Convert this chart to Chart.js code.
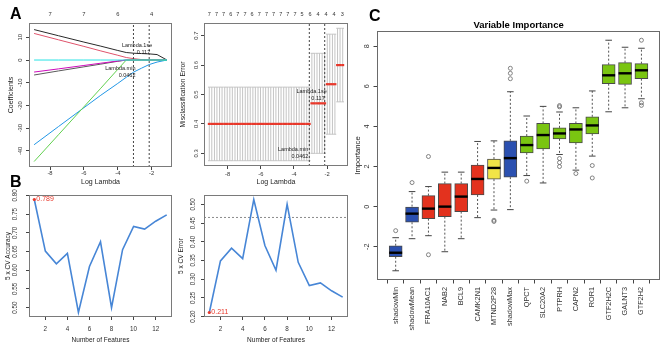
<!DOCTYPE html>
<html lang="en"><head><meta charset="utf-8"><title>Feature selection figure</title>
<script src="https://cdn.jsdelivr.net/npm/chart.js@4.4.1/dist/chart.umd.min.js"></script>
<style>
html,body{margin:0;padding:0;background:#fff;overflow:hidden}
#fig{position:relative;width:669px;height:345px;background:#fff}
#fig canvas{position:absolute;left:0;top:0}
.plab{position:absolute;font-family:'Liberation Sans',Arial,sans-serif;font-weight:bold;font-size:16px;line-height:16px;color:#000}
</style></head><body>
<div id="fig">
<canvas id="cvA1" width="669" height="345"></canvas>
<canvas id="cvA2" width="669" height="345"></canvas>
<canvas id="cvB1" width="669" height="345"></canvas>
<canvas id="cvB2" width="669" height="345"></canvas>
<canvas id="cvC" width="669" height="345"></canvas>
<div class="plab" style="left:10px;top:6px">A</div>
<div class="plab" style="left:10px;top:174px">B</div>
<div class="plab" style="left:369px;top:8px">C</div>
</div>
<script>
// ================= DATA =================
// Panel A (left): lasso coefficient paths vs log(lambda)
const pathLogLambda = [-8.94, -7.5, -6.0, -5.0, -4.0, -3.5, -3.06, -2.6, -2.15, -1.68, -1.1];
const coefBlack   = [13.4, 10.7, 7.9, 6.1, 4.2, 3.3, 3.0, 2.85, 2.7, 2.4, 0];
const coefPink    = [11.7, 8.9, 6.0, 4.0, 2.1, 1.1, 0.6, 0.2, 0, 0, 0];
const coefCyan    = [0, 0, 0, 0, 0, 0, 0, 0, 0, 0, 0];
const coefMagenta = [-5.3, -3.9, -2.4, -1.4, -0.45, 0, 0, 0, 0, 0, 0];
const coefGrey    = [-6.6, -4.8, -3.0, -1.8, -0.55, 0, 0, 0, 0, 0, 0];
const coefGreen   = [-44.7, -32.9, -20.6, -12.4, -4.1, 0, 0, 0, 0, 0, 0];
const coefBlue    = [-37.3, -29.3, -21.0, -15.5, -10.3, -7.6, -5.3, -3.6, -2.0, -0.9, 0];
const lambdaMinLog = -3.075;   // log(0.0462)
const lambda1seLog = -2.146;   // log(0.117)
const xTicksA = [-8, -6, -4, -2];
const yTicksA1 = [-40, -30, -20, -10, 0, 10];
const topPosA1 = [-8, -6, -4, -2];
const topLabA1 = ['7', '7', '6', '4'];

// Panel A (right): cross-validated misclassification error
const cvLogLambda = [-1.06,-1.22,-1.37,-1.53,-1.68,-1.84,-1.99,-2.15,-2.30,-2.46,
  -2.61,-2.77,-2.92,-3.08,-3.23,-3.39,-3.54,-3.69,-3.85,-4.00,
  -4.16,-4.31,-4.47,-4.62,-4.78,-4.93,-5.09,-5.24,-5.40,-5.55,
  -5.71,-5.86,-6.02,-6.17,-6.33,-6.48,-6.64,-6.79,-6.94,-7.10,
  -7.25,-7.41,-7.56,-7.72,-7.87,-8.03,-8.18,-8.34,-8.49,-8.65,
  -8.80,-8.96,-9.11];
const cvMean = [0.60,0.60,0.60,0.535,0.535,0.535,0.535,0.47,0.47,0.47,
  0.47,0.47,0.47,0.40,0.40,0.40,0.40,0.40,0.40,0.40,
  0.40,0.40,0.40,0.40,0.40,0.40,0.40,0.40,0.40,0.40,
  0.40,0.40,0.40,0.40,0.40,0.40,0.40,0.40,0.40,0.40,
  0.40,0.40,0.40,0.40,0.40,0.40,0.40,0.40,0.40,0.40,
  0.40,0.40,0.40];
const cvUp = [0.725,0.725,0.725,0.705,0.705,0.705,0.705,0.64,0.64,0.64,
  0.64,0.64,0.64,0.525,0.525,0.525,0.525,0.525,0.525,0.525,
  0.525,0.525,0.525,0.525,0.525,0.525,0.525,0.525,0.525,0.525,
  0.525,0.525,0.525,0.525,0.525,0.525,0.525,0.525,0.525,0.525,
  0.525,0.525,0.525,0.525,0.525,0.525,0.525,0.525,0.525,0.525,
  0.525,0.525,0.525];
const cvLo = [0.475,0.475,0.475,0.365,0.365,0.365,0.365,0.30,0.30,0.30,
  0.30,0.30,0.30,0.275,0.275,0.275,0.275,0.275,0.275,0.275,
  0.275,0.275,0.275,0.275,0.275,0.275,0.275,0.275,0.275,0.275,
  0.275,0.275,0.275,0.275,0.275,0.275,0.275,0.275,0.275,0.275,
  0.275,0.275,0.275,0.275,0.275,0.275,0.275,0.275,0.275,0.275,
  0.275,0.275,0.275];
const yTicksA2 = [0.3, 0.4, 0.5, 0.6, 0.7];
const topPosA2 = [-9.11,-8.68,-8.25,-7.82,-7.39,-6.96,-6.53,-6.09,-5.66,-5.23,-4.80,-4.37,-3.94,-3.52,-3.03,-2.55,-2.06,-1.58,-1.09];
const topLabA2 = ['7','7','7','6','7','7','6','7','7','7','7','7','7','5','6','4','4','4','3'];

// Panel B: SVM-RFE 5-fold CV
const nFeatures  = [1, 2, 3, 4, 5, 6, 7, 8, 9, 10, 11, 12, 13];
const cvAccuracy = [0.789, 0.651, 0.617, 0.645, 0.487, 0.610, 0.676, 0.500, 0.655, 0.717, 0.710, 0.731, 0.748];
const cvError    = [0.211, 0.349, 0.383, 0.355, 0.513, 0.390, 0.324, 0.500, 0.345, 0.283, 0.290, 0.269, 0.252];
const errCutoff  = 0.465;
const xTicksB  = [2, 4, 6, 8, 10, 12];
const yTicksB1 = [0.50, 0.55, 0.60, 0.65, 0.70, 0.75, 0.80];
const yTicksB2 = [0.20, 0.25, 0.30, 0.35, 0.40, 0.45, 0.50];

// Panel C: Boruta variable importance
const boxNames = ['shadowMin','shadowMean','FRA10AC1','NAB2','BCL9','CAMK2N1','MTND2P28','shadowMax',
  'QPCT','SLC20A2','PTPRH','CAPN2','ROR1','GTF2H2C','GALNT3','GTF2H2'];
const boxGroup = ['shadow','shadow','rejected','rejected','rejected','rejected','tentative','shadow',
  'confirmed','confirmed','confirmed','confirmed','confirmed','confirmed','confirmed','confirmed'];
const boxLow  = [-3.2, -1.6, -1.45, -2.25, -1.6, -0.55, -0.17, -0.15, 1.55, 1.18, 2.6, 1.82, 2.52, 4.73, 4.93, 5.38];
const boxQ1   = [-2.5, -0.78, -0.6, -0.5, -0.25, 0.58, 1.37, 1.47, 2.68, 2.88, 3.38, 3.18, 3.63, 6.13, 6.1, 6.38];
const boxMed  = [-2.3, -0.35, -0.1, 0.0, 0.5, 1.38, 1.93, 2.42, 3.07, 3.57, 3.65, 3.85, 4.05, 6.55, 6.65, 6.8];
const boxQ3   = [-1.95, 0.0, 0.55, 1.15, 1.15, 2.07, 2.37, 3.28, 3.52, 4.15, 3.93, 4.15, 4.48, 7.08, 7.18, 7.13];
const boxHigh = [-1.55, 0.75, 1.0, 1.72, 1.72, 3.25, 3.28, 5.73, 4.52, 5.0, 4.72, 4.93, 5.77, 8.3, 7.95, 7.9];
const outlierBox = [1, 2, 3, 3, 7, 7, 8, 8, 8, 9, 11, 11, 11, 11, 11, 12, 13, 13, 16, 16, 16];
const outlierVal = [-1.2, 1.2, 2.5, -2.4, -0.68, -0.74, 6.38, 6.65, 6.9, 1.27, 4.98, 5.04, 2.4, 2.2, 2.0, 1.65, 2.05, 1.43, 8.3, 5.18, 5.05];
const yTicksC = [-2, 0, 2, 4, 6, 8];
const boxTickPos = [1, 2, 3, 4, 5, 6, 7, 8, 9, 10, 11, 12, 13, 14, 15, 16];

// ================= HELPERS =================
const W = 669, H = 345;
const FAM = "'Liberation Sans', Arial, Helvetica, sans-serif";
Chart.defaults.font.family = FAM;
Chart.defaults.color = '#333';
const groupColor = { shadow: '#2b50b0', rejected: '#e3321e', tentative: '#f1e547', confirmed: '#7ac511' };
const RED = '#e8382b';

function pts(xs, ys) { return xs.map((x, i) => ({ x: x, y: ys[i] })); }

function framePlugin(color) {
  return { id: 'frame', afterDatasetsDraw(chart) {
    const a = chart.chartArea, ctx = chart.ctx;
    ctx.save(); ctx.strokeStyle = color; ctx.lineWidth = 1;
    ctx.strokeRect(Math.round(a.left) + 0.5, Math.round(a.top) + 0.5,
      Math.round(a.right) - Math.round(a.left) - 1, Math.round(a.bottom) - Math.round(a.top) - 1);
    ctx.restore();
  }};
}
function notesPlugin(items) {
  return { id: 'notes', afterDatasetsDraw(chart) {
    const ctx = chart.ctx, a = chart.chartArea;
    items.forEach(it => {
      let px, py;
      if (it.center) { px = (a.left + a.right) / 2; py = a.top + it.dyTop; }
      else {
        px = chart.scales.x.getPixelForValue(it.x) + (it.dx || 0);
        py = chart.scales.y.getPixelForValue(it.y) + (it.dy || 0);
      }
      ctx.save(); ctx.font = it.font; ctx.fillStyle = it.color || '#222';
      ctx.textAlign = it.align || 'left'; ctx.textBaseline = 'middle';
      ctx.fillText(it.text, px, py); ctx.restore();
    });
  }};
}
function yAxisCfg(o) {
  return {
    type: 'linear', position: 'left', min: o.min, max: o.max, bounds: 'data',
    afterFit: s => { s.width = o.width; },
    afterBuildTicks: s => { s.ticks = o.ticks.map(v => ({ value: v })); },
    grid: { display: true, drawOnChartArea: false, drawTicks: true, tickLength: o.tl, tickColor: '#444', tickWidth: 1 },
    border: { display: false },
    ticks: { autoSkip: false, minRotation: 90, maxRotation: 90, crossAlign: 'center', padding: o.pad,
      font: { size: o.font }, color: '#333', callback: o.fmt },
    title: { display: true, text: o.title, font: { size: o.titleFont }, padding: { top: o.titlePad, bottom: 0 }, color: '#222' }
  };
}
function xAxisCfg(o) {
  const hasTicks = o.tl > 0;
  return {
    type: 'linear', position: o.position || 'bottom', min: o.min, max: o.max, offset: false, bounds: 'data',
    afterFit: s => { s.height = o.height; },
    afterBuildTicks: s => { s.ticks = o.ticks.map(v => ({ value: v })); },
    grid: { display: hasTicks, drawOnChartArea: false, drawTicks: hasTicks, tickLength: o.tl, tickColor: '#444', tickWidth: 1 },
    border: { display: false },
    ticks: { autoSkip: false, minRotation: o.rot || 0, maxRotation: o.rot || 0, padding: o.pad,
      font: { size: o.font }, color: '#333', callback: o.fmt },
    title: o.title ? { display: true, text: o.title, font: { size: o.titleFont }, padding: { top: 0, bottom: o.titlePad }, color: '#222' } : { display: false }
  };
}
function baseOptions(P, scales) {
  return {
    responsive: false, maintainAspectRatio: false, animation: false, devicePixelRatio: 1, events: [],
    layout: { padding: { left: P.L - P.yw, top: P.T - P.th, right: W - P.R, bottom: H - P.B - P.xh } },
    scales: scales,
    plugins: { legend: { display: false }, tooltip: { enabled: false }, title: { display: false } }
  };
}
function lineDs(data, color, width, extra) {
  return Object.assign({ type: 'line', data: data, borderColor: color, borderWidth: width, pointRadius: 0,
    tension: 0, fill: false, spanGaps: false }, extra || {});
}

// ================= PANEL A (left) =================
(function () {
  const P = { L: 29, T: 23, R: 172, B: 167, yw: 25, xh: 22, th: 14, xmin: -9.24, xmax: -0.80, ymin: -47.1, ymax: 16.3 };
  const paths = [
    [coefCyan, '#28E2E5'], [coefGreen, '#61D04F'], [coefBlue, '#2297E6'], [coefMagenta, '#CD0BBC'],
    [coefGrey, '#5a5a5a'], [coefPink, '#DF536B'], [coefBlack, '#2a2a2a']
  ];
  const ds = paths.map(p => lineDs(pts(pathLogLambda, p[0]), p[1], 1, { order: 2 }));
  [lambdaMinLog, lambda1seLog].forEach(l => ds.push(lineDs([{ x: l, y: P.ymin }, { x: l, y: P.ymax }], '#444', 1, { borderDash: [2, 2], order: 1 })));
  const f = '5.5px ' + FAM;
  const notes = [
    { x: lambda1seLog, y: 6.6, dx: 3, text: 'Lambda.1se', align: 'right', font: f },
    { x: lambda1seLog, y: 3.1, dx: 1, text: '0.117', align: 'right', font: f },
    { x: lambdaMinLog, y: -3.9, dx: 2, text: 'Lambda.min', align: 'right', font: f },
    { x: lambdaMinLog, y: -7.0, dx: 2, text: '0.0462', align: 'right', font: f }
  ];
  new Chart(document.getElementById('cvA1'), {
    type: 'scatter',
    data: { datasets: ds },
    options: baseOptions(P, {
      x: xAxisCfg({ min: P.xmin, max: P.xmax, ticks: xTicksA, height: P.xh, tl: 3, pad: 0.3, font: 5.8,
        fmt: v => String(v), title: 'Log Lambda', titleFont: 7, titlePad: 2.8 }),
      x2: xAxisCfg({ position: 'top', min: P.xmin, max: P.xmax, ticks: topPosA1, height: P.th, tl: 0, pad: 5.2, font: 5.8,
        fmt: (v, i) => topLabA1[i] }),
      y: yAxisCfg({ min: P.ymin, max: P.ymax, ticks: yTicksA1, width: P.yw, tl: 3, pad: 1.5, font: 5.8,
        fmt: v => String(v), title: 'Coefficients', titleFont: 7, titlePad: 2.8 })
    }),
    plugins: [framePlugin('#7a7a7a'), notesPlugin(notes)]
  });
})();

// ================= PANEL A (right) =================
(function () {
  const P = { L: 204, T: 23, R: 348, B: 166, yw: 25, xh: 22, th: 14, xmin: -9.43, xmax: -0.74, ymin: 0.257, ymax: 0.743 };
  const capHalf = 0.08;
  const bars = [];
  cvLogLambda.forEach((x, i) => {
    bars.push({ x: x, y: cvLo[i] }, { x: x, y: cvUp[i] }, { x: x, y: null });
    bars.push({ x: x - capHalf, y: cvUp[i] }, { x: x + capHalf, y: cvUp[i] }, { x: x, y: null });
    bars.push({ x: x - capHalf, y: cvLo[i] }, { x: x + capHalf, y: cvLo[i] }, { x: x, y: null });
  });
  const ds = [
    { type: 'scatter', data: pts(cvLogLambda, cvMean), pointStyle: 'line', pointRadius: 1.5,
      pointBorderColor: RED, pointBorderWidth: 2.2, order: 0 },
    lineDs(bars, '#c4c4c4', 1, { order: 3 })
  ];
  [lambdaMinLog, lambda1seLog].forEach(l => ds.push(lineDs([{ x: l, y: P.ymin }, { x: l, y: P.ymax }], '#444', 1, { borderDash: [2, 2], order: 1 })));
  const f = '5.5px ' + FAM;
  const notes = [
    { x: lambda1seLog, y: 0.51, dx: 2, text: 'Lambda.1se', align: 'right', font: f },
    { x: lambda1seLog, y: 0.487, dx: 0, text: '0.117', align: 'right', font: f },
    { x: lambdaMinLog, y: 0.313, dx: -1, text: 'Lambda.min', align: 'right', font: f },
    { x: lambdaMinLog, y: 0.29, dx: -1, text: '0.0462', align: 'right', font: f }
  ];
  new Chart(document.getElementById('cvA2'), {
    type: 'scatter',
    data: { datasets: ds },
    options: baseOptions(P, {
      x: xAxisCfg({ min: P.xmin, max: P.xmax, ticks: xTicksA, height: P.xh, tl: 3, pad: 1.5, font: 5.8,
        fmt: v => String(v), title: 'Log Lambda', titleFont: 7, titlePad: 2.1 }),
      x2: xAxisCfg({ position: 'top', min: P.xmin, max: P.xmax, ticks: topPosA2, height: P.th, tl: 0, pad: 5.2, font: 5.5,
        fmt: (v, i) => topLabA2[i] }),
      y: yAxisCfg({ min: P.ymin, max: P.ymax, ticks: yTicksA2, width: P.yw, tl: 3, pad: 0.8, font: 5.8,
        fmt: v => v.toFixed(1), title: 'Misclassification Error', titleFont: 6.8, titlePad: 0 })
    }),
    plugins: [framePlugin('#7a7a7a'), notesPlugin(notes)]
  });
})();

// ================= PANEL B =================
function panelB(id, P, values, ticksY, yTitle, tickPadY, titlePadY, cutoff) {
  const ds = [
    { type: 'scatter', data: [{ x: nFeatures[0], y: values[0] }], pointRadius: 1.6,
      pointBackgroundColor: RED, pointBorderWidth: 0, order: 0 },
    lineDs(pts(nFeatures, values), '#4786d6', 1.6, { order: 1 })
  ];
  if (cutoff !== null) ds.push(lineDs([{ x: P.xmin, y: cutoff }, { x: P.xmax, y: cutoff }], '#8a8a8a', 1, { borderDash: [2, 2], order: 2 }));
  const notes = [{ x: nFeatures[0], y: values[0], dx: 2, text: values[0].toFixed(3), align: 'left', font: '7px ' + FAM, color: RED }];
  new Chart(document.getElementById(id), {
    type: 'scatter',
    data: { datasets: ds },
    options: baseOptions(P, {
      x: xAxisCfg({ min: P.xmin, max: P.xmax, ticks: xTicksB, height: P.xh, tl: 3, pad: 5.5, font: 6.3,
        fmt: v => String(v), title: 'Number of Features', titleFont: 6.5, titlePad: 0.5 }),
      y: yAxisCfg({ min: P.ymin, max: P.ymax, ticks: ticksY, width: P.yw, tl: 3, pad: tickPadY, font: 6.3,
        fmt: v => v.toFixed(2), title: yTitle, titleFont: 6.5, titlePad: titlePadY })
    }),
    plugins: [framePlugin('#7a7a7a'), notesPlugin(notes)]
  });
}
panelB('cvB1', { L: 29, T: 195, R: 172, B: 317, yw: 25, xh: 28, th: 0, xmin: 0.52, xmax: 13.48, ymin: 0.475, ymax: 0.801 },
  cvAccuracy, yTicksB1, '5 x CV Accuracy', 4.9, 0, null);
panelB('cvB2', { L: 204, T: 195, R: 348, B: 317, yw: 27, xh: 28, th: 0, xmin: 0.52, xmax: 13.48, ymin: 0.199, ymax: 0.525 },
  cvError, yTicksB2, '5 x CV Error', 1.6, 0.5, errCutoff);

// ================= PANEL C =================
(function () {
  const P = { L: 377, T: 31, R: 662, B: 280, yw: 25, xh: 60, th: 0, xmin: -0.14, xmax: 17.14, ymin: -3.66, ymax: 8.76 };
  const xs = boxNames.map((n, i) => i + 1);
  const whisk = [];
  xs.forEach((x, i) => {
    whisk.push({ x: x, y: boxQ3[i] }, { x: x, y: boxHigh[i] }, { x: x, y: null });
    whisk.push({ x: x, y: boxQ1[i] }, { x: x, y: boxLow[i] }, { x: x, y: null });
  });
  const ds = [
    { type: 'scatter', data: pts(xs, boxMed), pointStyle: 'line', pointRadius: 6.5, pointBorderWidth: 2.4,
      pointBorderColor: '#000', order: 0 },
    { type: 'scatter', data: pts(outlierBox, outlierVal), pointStyle: 'circle', pointRadius: 2,
      pointBackgroundColor: 'rgba(0,0,0,0)', pointBorderColor: '#666', pointBorderWidth: 0.8, order: 1 },
    { type: 'bar', data: xs.map((x, i) => ({ x: x, y: [boxQ1[i], boxQ3[i]] })),
      backgroundColor: boxGroup.map(g => groupColor[g]), borderColor: '#4a4a4a', borderWidth: 1,
      borderSkipped: false, barThickness: 13, order: 2 },
    { type: 'scatter', data: pts(xs, boxHigh).concat(pts(xs, boxLow)), pointStyle: 'line', pointRadius: 3.3,
      pointBorderWidth: 1, pointBorderColor: '#444', order: 3 },
    lineDs(whisk, '#555', 1, { borderDash: [2, 2], order: 4 })
  ];
  const notes = [{ center: true, dyTop: -6, text: 'Variable Importance', align: 'center', font: 'bold 9.5px ' + FAM, color: '#000' }];
  new Chart(document.getElementById('cvC'), {
    type: 'scatter',
    data: { datasets: ds },
    options: baseOptions(P, {
      x: xAxisCfg({ min: P.xmin, max: P.xmax, ticks: boxTickPos, height: P.xh, tl: 3.5, pad: 3.5, font: 7.3, rot: 90,
        fmt: v => boxNames[v - 1] }),
      y: yAxisCfg({ min: P.ymin, max: P.ymax, ticks: yTicksC, width: P.yw, tl: 3.5, pad: 2.8, font: 7.3,
        fmt: v => String(v), title: 'Importance', titleFont: 7.7, titlePad: 1.1 })
    }),
    plugins: [framePlugin('#6a6a6a'), notesPlugin(notes)]
  });
})();
</script>
</body></html>
